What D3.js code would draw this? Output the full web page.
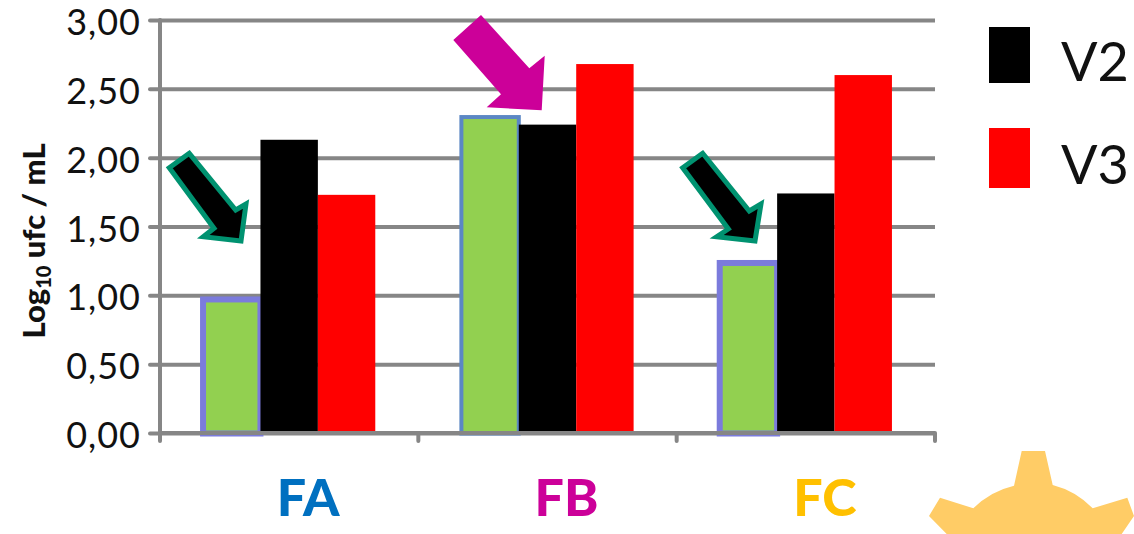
<!DOCTYPE html>
<html>
<head>
<meta charset="utf-8">
<script src="https://cdn.jsdelivr.net/npm/d3@7/dist/d3.min.js"></script>
<style>
  html, body { margin: 0; padding: 0; background: #fff; }
  svg { display: block; font-family: Lato, "Open Sans", sans-serif; }
</style>
</head>
<body>
<script>
const categories = ["FA", "FB", "FC"];
const categoryColors = ["#0070c0", "#cc0099", "#ffc000"];
const seriesNames = ["V1", "V2", "V3"];
const valuesV1 = [0.97, 2.295, 1.235];
const valuesV2 = [2.13, 2.24, 1.74];
const valuesV3 = [1.73, 2.68, 2.60];
const yTicks = [0, 0.5, 1, 1.5, 2, 2.5, 3];
const legendNames = ["V2", "V3"];
const legendColors = ["#000000", "#ff0000"];
const seriesColors = ["#92d050", "#000000", "#ff0000"];
const outlineColors = ["#7b7bdc", "#5b87c4", "#7b7bdc"];
const outlineWidths = [6, 4, 6];

const width = 1134, height = 534;
const plot = { left: 160, right: 935, top: 20, bottom: 433 };
const axisGrey = "#868686";

const svg = d3.select("body").append("svg").attr("width", width).attr("height", height);

const x = d3.scaleBand().domain(categories).range([plot.left, plot.right]);
const xInner = d3.scaleBand().domain(seriesNames).range([0, x.bandwidth()]).paddingInner(0).paddingOuter(0.75);
const y = d3.scaleLinear().domain([0, 3]).range([plot.bottom, plot.top]);

// Horizontal gridlines sit behind the bars
const grid = svg.append("g").attr("transform", `translate(${plot.left},0)`)
  .call(d3.axisLeft(y).tickValues(yTicks).tickSize(-(plot.right - plot.left)).tickFormat(""));
grid.select(".domain").remove();
grid.selectAll("line").attr("stroke", axisGrey).attr("stroke-width", 4);

// Grouped bars; the first series carries a coloured outline
const allValues = [valuesV1, valuesV2, valuesV3];
seriesNames.forEach((name, s) => {
  svg.append("g").selectAll("rect").data(categories).join("rect")
    .attr("x", d => x(d) + xInner(name))
    .attr("width", xInner.bandwidth())
    .attr("y", (d, i) => y(allValues[s][i]))
    .attr("height", (d, i) => plot.bottom + (s === 0 ? 0.5 : 0) - y(allValues[s][i]))
    .attr("fill", seriesColors[s])
    .attr("stroke", (d, i) => s === 0 ? outlineColors[i] : "none")
    .attr("stroke-width", (d, i) => s === 0 ? outlineWidths[i] : 0);
});

// Value axis
const yAxis = svg.append("g").attr("transform", `translate(${plot.left},0)`)
  .call(d3.axisLeft(y).tickValues(yTicks).tickSize(10).tickPadding(9)
    .tickFormat(d => d3.format(".2f")(d).replace(".", ",")));
yAxis.select(".domain").remove();
yAxis.selectAll("line").attr("stroke", axisGrey).attr("stroke-width", 4).attr("stroke-linecap", "round");
yAxis.selectAll("text").attr("font-size", 36).attr("letter-spacing", 1).attr("dy", 14.5)
  .attr("font-family", "Lato, sans-serif").attr("fill", "#111");

svg.append("line")
  .attr("x1", plot.left).attr("x2", plot.left)
  .attr("y1", plot.top).attr("y2", 441)
  .attr("stroke", axisGrey).attr("stroke-width", 4).attr("stroke-linecap", "round");

// Category axis: baseline, ticks on the band edges and the coloured names
const xAxis = svg.append("g").attr("transform", `translate(19,${plot.bottom})`)
  .call(d3.axisBottom(x).tickSize(0).tickPadding(46));
xAxis.select(".domain").remove();
xAxis.selectAll("text").attr("font-size", 52).attr("font-weight", 900)
  .attr("font-family", "Lato, sans-serif")
  .attr("fill", (d, i) => categoryColors[i]);

svg.append("line")
  .attr("x1", plot.left).attr("x2", plot.right)
  .attr("y1", plot.bottom).attr("y2", plot.bottom)
  .attr("stroke", axisGrey).attr("stroke-width", 4);

svg.append("g").selectAll("line").data(categories).join("line")
  .attr("x1", d => x(d) + x.bandwidth()).attr("x2", d => x(d) + x.bandwidth())
  .attr("y1", plot.bottom).attr("y2", 441)
  .attr("stroke", axisGrey).attr("stroke-width", 4).attr("stroke-linecap", "round");

// Rotated axis title with subscript
const title = svg.append("text")
  .attr("transform", "translate(45,241) rotate(-90)")
  .attr("text-anchor", "middle")
  .attr("font-size", 31).attr("font-weight", 900).attr("fill", "#111");
title.append("tspan").text("Log");
title.append("tspan").attr("font-size", 20).attr("dy", 6).text("10");
title.append("tspan").attr("dy", -6).text(" ufc / mL");

// Legend
const legend = svg.append("g").selectAll("g").data(legendNames).join("g");
const legendTops = [27, 128];
const legendHeights = [56, 60];
const legendBaselines = [81, 184];
legend.append("rect")
  .attr("x", 989).attr("width", 41)
  .attr("y", (d, i) => legendTops[i])
  .attr("height", (d, i) => legendHeights[i])
  .attr("fill", (d, i) => legendColors[i]);
legend.append("text")
  .attr("x", 1061)
  .attr("y", (d, i) => legendBaselines[i])
  .attr("font-size", 54).attr("fill", "#111")
  .text(d => d);

// Callout arrows
const arrowPath = d3.line();
const arrowShapes = [
  { pts: [[189.3,153.3],[169.3,167.7],[214,228.3],[203.3,236.7],[241,241],[246,204],[235.7,210]], fill: "#000", stroke: "#009270", sw: 5 },
  { pts: [[702.7,153.3],[682.7,167.7],[728.3,229],[716.7,236.7],[755,241],[761,204],[749.3,211]], fill: "#000", stroke: "#009270", sw: 5 },
  { pts: [[481,15],[453.3,40],[501,94.3],[486.7,107.3],[541.7,110.3],[544.7,55.7],[529.3,68.3]], fill: "#cc0099", stroke: "none", sw: 0 }
];
svg.append("g").selectAll("path").data(arrowShapes).join("path")
  .attr("d", d => arrowPath(d.pts) + "Z")
  .attr("fill", d => d.fill).attr("stroke", d => d.stroke).attr("stroke-width", d => d.sw);

// Decorative cog clipped by the lower right corner
svg.append("path")
  .attr("fill", "#ffcc66")
  .attr("d", "M1021.7,451L1045,451L1052.7,485A85,85 0 0 1 1092.7,508.3L1127.3,497.7L1134,516L1121.7,534L946.7,534L929,516L940,497.7L973.3,508.3A85,85 0 0 1 1014,485.7Z");
</script>
</body>
</html>
